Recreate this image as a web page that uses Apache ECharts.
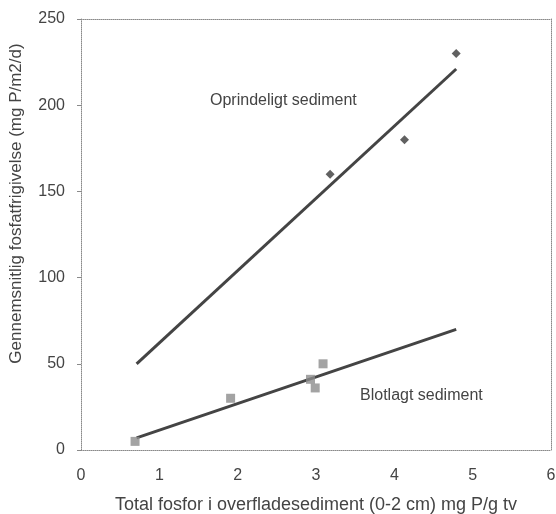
<!DOCTYPE html>
<html>
<head>
<meta charset="utf-8">
<script src="https://cdn.jsdelivr.net/npm/echarts@6/dist/echarts.min.js"></script>
<style>
  html, body { margin: 0; padding: 0; background: #fff; }
  #chart { width: 556px; height: 514px; }
</style>
</head>
<body>
<div id="chart"></div>
<script>
// Measured points: original sediment (diamonds) and flooded sediment (squares)
var oprindeligtPoints = [[3.18, 160], [4.13, 180], [4.79, 230]];
var blotlagtPoints = [[0.69, 5], [1.91, 30], [2.93, 41], [2.99, 36], [3.09, 50]];

// Fitted regression lines (end points)
var oprindeligtFit = [[0.71, 50], [4.79, 221]];
var blotlagtFit = [[0.71, 7], [4.79, 70]];

// Axis ranges
var xTicks = { min: 0, max: 6, interval: 1 };
var yTicks = { min: 0, max: 250, interval: 50 };

var FONT = 'Liberation Sans';
var TXT = '#444';
var frameLine = { show: true, onZero: false, lineStyle: { color: '#8a8a8a', width: 1, type: 'dotted' } };

var chart = echarts.init(document.getElementById('chart'));
chart.setOption({
  animation: false,
  backgroundColor: '#fff',
  grid: { left: 81, right: 5, top: 19, bottom: 64, containLabel: false, outerBoundsMode: 'none' },
  xAxis: [{
    type: 'value', min: xTicks.min, max: xTicks.max, interval: xTicks.interval,
    name: 'Total fosfor i overfladesediment (0-2 cm) mg P/g tv',
    nameLocation: 'middle', nameGap: 46,
    nameTextStyle: { color: TXT, fontFamily: FONT, fontSize: 18 },
    axisLine: frameLine,
    axisTick: { show: false },
    splitLine: { show: false },
    axisLabel: { color: TXT, fontFamily: FONT, fontSize: 16, margin: 18 }
  }, {
    type: 'value', position: 'top', min: xTicks.min, max: xTicks.max,
    axisLine: frameLine, axisTick: { show: false }, axisLabel: { show: false }, splitLine: { show: false }
  }],
  yAxis: [{
    type: 'value', min: yTicks.min, max: yTicks.max, interval: yTicks.interval,
    name: 'Gennemsnitlig fosfatfrigivelse (mg P/m2/d)',
    nameLocation: 'middle', nameGap: 56, nameRotate: 90,
    nameTextStyle: { color: TXT, fontFamily: FONT, fontSize: 17, padding: [0, 0, 0, 62] },
    axisLine: frameLine,
    axisTick: { show: true, length: 4, inside: false, lineStyle: { color: '#8a8a8a' } },
    splitLine: { show: false },
    axisLabel: { color: TXT, fontFamily: FONT, fontSize: 16, margin: 16 }
  }, {
    type: 'value', position: 'right', min: yTicks.min, max: yTicks.max,
    axisLine: frameLine, axisTick: { show: false }, axisLabel: { show: false }, splitLine: { show: false }
  }],
  series: [
    {
      name: 'Oprindeligt sediment fit', type: 'line', data: oprindeligtFit,
      symbol: 'none', lineStyle: { color: '#444', width: 3 }, z: 2
    },
    {
      name: 'Blotlagt sediment fit', type: 'line', data: blotlagtFit,
      symbol: 'none', lineStyle: { color: '#444', width: 3 }, z: 2
    },
    {
      name: 'Oprindeligt sediment', type: 'scatter', data: oprindeligtPoints,
      symbol: 'diamond', symbolSize: 9, itemStyle: { color: '#3a3a3a' }, z: 3
    },
    {
      name: 'Blotlagt sediment', type: 'scatter', data: blotlagtPoints,
      symbol: 'rect', symbolSize: 9, itemStyle: { color: '#8c8c8c' }, z: 3
    }
  ],
  graphic: [
    {
      type: 'text', left: 210, top: 93,
      style: { text: 'Oprindeligt sediment', fill: TXT, font: '16px ' + FONT }
    },
    {
      type: 'text', left: 360, top: 388,
      style: { text: 'Blotlagt sediment', fill: TXT, font: '16px ' + FONT }
    }
  ]
});
</script>
</body>
</html>
